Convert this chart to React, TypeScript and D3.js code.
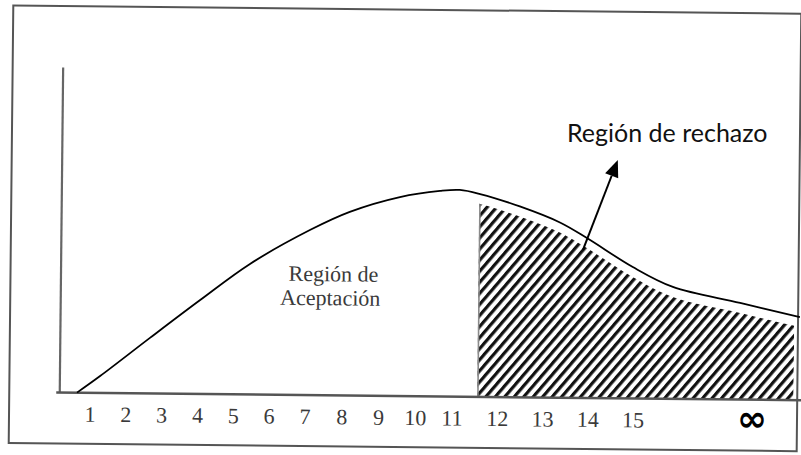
import React from 'react';
import * as d3 from 'd3';

const W = 801;
const H = 455;

// x tick labels (categories) and their positions in the x domain
const tickLabels = ['1', '2', '3', '4', '5', '6', '7', '8', '9', '10', '11', '12', '13', '14', '15', '∞'];
const tickValues = [1, 2, 3, 4, 5, 6, 7, 8, 9, 10, 11, 12, 13, 14, 15, 18];

// density curve
const curveX = [0.63, 1.27, 2.65, 4.04, 5.42, 7.08, 8.16, 9.52, 10.61, 11.12, 11.57, 12.45, 13.34, 13.94, 14.96, 15.97, 17.67, 19.18];
const curveY = [0, 5.6, 18.5, 31.3, 43.5, 55.0, 61.2, 66.3, 68.5, 68.9, 67.6, 63.6, 58.4, 53.3, 43.8, 37.3, 32.2, 27.7];

// rejection region limits
const rejectStart = 11.55;
const rejectEnd = 19.04;

// annotation arrow (data coords)
const arrowFrom = [13.85, 48.7];
const arrowTo = [14.62, 78.7];

export default function App() {
  const x = d3.scaleLinear().domain([1, 7, 11, 15, 18]).range([92, 307, 454, 635, 754]);
  const y = d3.scaleLinear().domain([0, 100]).range([396, 96]);
  const pts: [number, number][] = curveX.map((v, i) => [v, curveY[i]]);
  const curve = d3.curveCatmullRom.alpha(0.5);
  const line = d3.line<[number, number]>().x(d => x(d[0])).y(d => y(d[1])).curve(curve);
  const area = d3
    .area<[number, number]>()
    .x(d => x(d[0]))
    .y0(y(0))
    .y1(d => y(d[1]) + 10)
    .curve(curve);

  const ax0 = x(arrowFrom[0]);
  const ay0 = y(arrowFrom[1]);
  const ax1 = x(arrowTo[0]);
  const ay1 = y(arrowTo[1]);
  const ang = Math.atan2(ay1 - ay0, ax1 - ax0);
  const headLen = 17;
  const headW = 7;
  const bx = ax1 - headLen * Math.cos(ang);
  const by = ay1 - headLen * Math.sin(ang);
  const px = -Math.sin(ang) * headW;
  const py = Math.cos(ang) * headW;

  const xs = x(rejectStart);
  const xe = x(rejectEnd);

  return (
    <svg
      width={W}
      height={H}
      viewBox={`0 0 ${W} ${H}`}
      style={{ position: 'fixed', top: 0, left: 0, background: '#fff' }}
    >
      <defs>
        <pattern id="hatch" width={7.2} height={20} patternUnits="userSpaceOnUse" patternTransform="rotate(40)">
          <rect x={0} y={0} width={3.2} height={20} fill="#111" />
        </pattern>
        <clipPath id="xrange">
          <rect x={xs} y={0} width={xe - xs} height={H} />
        </clipPath>
        <clipPath id="areaClip">
          <path d={area(pts) || ''} />
        </clipPath>
      </defs>
      <rect x={0} y={0} width={W} height={H} fill="#fff" />
      <g transform="rotate(0.6 400 227)">
        {/* frame */}
        <rect x={11} y={9.5} width={788} height={437.5} fill="none" stroke="#555" strokeWidth={2} />
        {/* hatched rejection region */}
        <g clipPath="url(#xrange)">
          <g clipPath="url(#areaClip)">
            <rect x={xs} y={0} width={xe - xs} height={H} fill="url(#hatch)" />
            <rect x={xs - 1} y={0} width={2.6} height={H} fill="#8a8a8a" />
          </g>
        </g>
        {/* axes */}
        <line x1={61.5} y1={71} x2={61.5} y2={396} stroke="#666" strokeWidth={2.2} />
        <line x1={58} y1={396} x2={806} y2={396} stroke="#555" strokeWidth={2.5} />
        {/* curve */}
        <path d={line(pts) || ''} fill="none" stroke="#000" strokeWidth={1.8} />
        {/* tick labels */}
        {tickLabels.slice(0, 15).map((t, i) => (
          <text
            key={t}
            x={x(tickValues[i])}
            y={425}
            textAnchor="middle"
            fontFamily="'Liberation Serif', serif"
            fontSize={22}
            fill="#3a3a3a"
          >
            {t}
          </text>
        ))}
        {/* acceptance label */}
        <text textAnchor="middle" fontFamily="'Liberation Serif', serif" fontSize={22} fill="#3a3a3a">
          <tspan x={334} y={282}>Región de</tspan>
          <tspan x={331} y={306}>Aceptación</tspan>
        </text>
      </g>
      {/* infinity label */}
      <text
        x={x(tickValues[15]) - 2}
        y={431}
        textAnchor="middle"
        fontFamily="'DejaVu Sans', sans-serif"
        fontSize={36}
        fontWeight="bold"
        fill="#000"
      >
        {tickLabels[15]}
      </text>
      {/* annotation */}
      <line x1={ax0} y1={ay0} x2={bx} y2={by} stroke="#000" strokeWidth={2} />
      <path d={`M${ax1},${ay1}L${bx + px},${by + py}L${bx - px},${by - py}Z`} fill="#000" />
      <text x={567} y={142} fontFamily="Lato, 'Open Sans', sans-serif" fontSize={25} fill="#111">
        Región de rechazo
      </text>
    </svg>
  );
}
